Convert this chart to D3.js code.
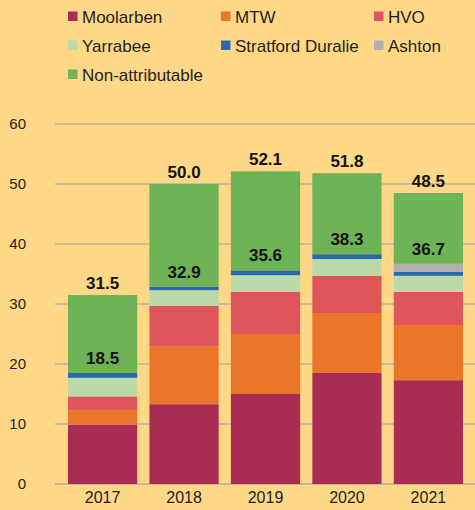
<!DOCTYPE html>
<html>
<head>
<meta charset="utf-8">
<script src="https://cdn.jsdelivr.net/npm/d3@7"></script>
<style>
  html, body { margin: 0; padding: 0; background: #fed886; }
  svg { display: block; font-family: "Liberation Sans", Arial, sans-serif; }
</style>
</head>
<body>
<div id="chart"></div>
<script>
// years on the x axis
var years = ["2017", "2018", "2019", "2020", "2021"];

// series, bottom to top of each stack
var mines = ["Moolarben", "MTW", "HVO", "Yarrabee", "Stratford Duralie", "Ashton", "Non-attributable"];
var colours = ["#a92c53", "#ea762a", "#df565a", "#bbdaa9", "#2a69af", "#b2b1ad", "#6eb356"];

var moolarben = [9.9, 13.3, 15.0, 18.5, 17.3];
var mtw = [2.4, 9.6, 10.0, 10.0, 9.2];
var hvo = [2.3, 6.8, 7.0, 6.2, 5.5];
var yarrabee = [3.1, 2.6, 2.8, 2.8, 2.7];
var stratford = [0.8, 0.6, 0.8, 0.8, 0.7];
var ashton = [0, 0, 0, 0, 1.3];
var nonAttributable = [13.0, 17.1, 16.5, 13.5, 11.8];

// labels written on the bars
var attributableLabels = ["18.5", "32.9", "35.6", "38.3", "36.7"];
var totalLabels = ["31.5", "50.0", "52.1", "51.8", "48.5"];

var yTicks = [0, 10, 20, 30, 40, 50, 60];

var width = 475, height = 510;

var series = [moolarben, mtw, hvo, yarrabee, stratford, ashton, nonAttributable];
var rows = years.map(function(y, i) {
  var row = { year: y };
  mines.forEach(function(m, j) { row[m] = series[j][i]; });
  return row;
});

var svg = d3.select("#chart").append("svg")
  .attr("width", width)
  .attr("height", height);

// flat paper-yellow background
svg.append("rect")
  .attr("width", width)
  .attr("height", height)
  .attr("fill", "#fed886");

var x = d3.scaleBand()
  .domain(years)
  .range([68, 463])
  .paddingInner(0.15)
  .paddingOuter(0);

var y = d3.scaleLinear()
  .domain([0, 60])
  .range([484, 124]);

// gridlines
svg.append("g").selectAll("line")
  .data(yTicks)
  .enter().append("line")
  .attr("x1", 55)
  .attr("x2", width)
  .attr("y1", function(d) { return y(d); })
  .attr("y2", function(d) { return y(d); })
  .attr("stroke", function(d) { return d === 0 ? "#b3ad9c" : "#9c9e9f"; })
  .attr("stroke-width", function(d) { return d === 0 ? 1.6 : 1.2; });

// y tick labels
svg.append("g").selectAll("text")
  .data(yTicks)
  .enter().append("text")
  .attr("x", 26)
  .attr("y", function(d) { return y(d); })
  .attr("dy", "0.33em")
  .attr("text-anchor", "end")
  .attr("font-size", 15)
  .attr("fill", "#1e1e1e")
  .text(function(d) { return d; });

var stack = d3.stack().keys(mines);
var layers = stack(rows);

svg.append("g").selectAll("g")
  .data(layers)
  .enter().append("g")
  .attr("fill", function(d, i) { return colours[i]; })
  .selectAll("rect")
  .data(function(d) { return d; })
  .enter().append("rect")
  .attr("x", function(d) { return x(d.data.year); })
  .attr("width", x.bandwidth())
  .attr("y", function(d) { return y(d[1]); })
  .attr("height", function(d) { return y(d[0]) - y(d[1]); });

// x axis labels
svg.append("g").selectAll("text")
  .data(years)
  .enter().append("text")
  .attr("x", function(d) { return x(d) + x.bandwidth() / 2; })
  .attr("y", 503)
  .attr("text-anchor", "middle")
  .attr("font-size", 16)
  .attr("fill", "#1e1e1e")
  .text(function(d) { return d; });

// attributable total, above the coloured part of each stack
var attrLayer = layers[layers.length - 2];
svg.append("g").selectAll("text")
  .data(attrLayer)
  .enter().append("text")
  .attr("x", function(d) { return x(d.data.year) + x.bandwidth() / 2; })
  .attr("y", function(d) { return y(d[1]) - 9; })
  .attr("text-anchor", "middle")
  .attr("font-size", 17)
  .attr("font-weight", "bold")
  .attr("fill", "#111")
  .text(function(d, i) { return attributableLabels[i]; });

// grand total above each bar
var totalLayer = layers[layers.length - 1];
svg.append("g").selectAll("text")
  .data(totalLayer)
  .enter().append("text")
  .attr("x", function(d) { return x(d.data.year) + x.bandwidth() / 2; })
  .attr("y", function(d) { return y(d[1]) - 6; })
  .attr("text-anchor", "middle")
  .attr("font-size", 17)
  .attr("font-weight", "bold")
  .attr("fill", "#111")
  .text(function(d, i) { return totalLabels[i]; });

// legend, three columns
var legend = svg.append("g").selectAll("g")
  .data(mines)
  .enter().append("g")
  .attr("transform", function(d, i) {
    return "translate(" + (68 + (i % 3) * 153) + "," + (23 + Math.floor(i / 3) * 29) + ")";
  });

legend.append("rect")
  .attr("y", -11.5)
  .attr("width", 9.5)
  .attr("height", 9.5)
  .attr("fill", function(d, i) { return colours[i]; });

legend.append("text")
  .attr("x", 14)
  .attr("font-size", 17)
  .attr("fill", "#1e1e1e")
  .text(function(d) { return d; });
</script>
</body>
</html>
